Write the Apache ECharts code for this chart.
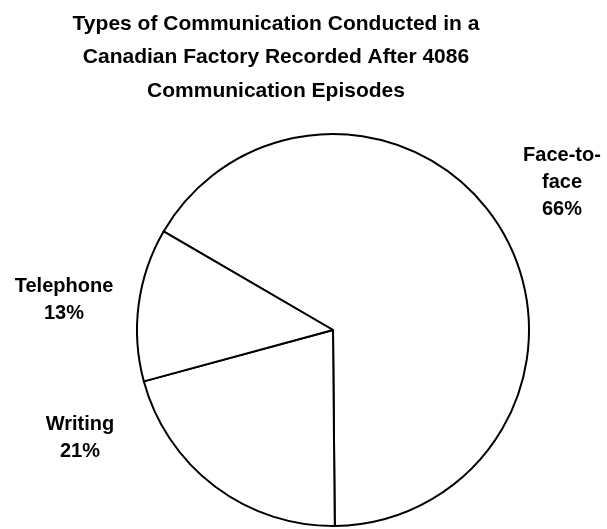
<!DOCTYPE html>
<html>
<head>
<meta charset="utf-8">
<script src="https://cdn.jsdelivr.net/npm/echarts@6/dist/echarts.min.js"></script>
<style>
  html, body { margin: 0; padding: 0; background: #fff; }
  #main { width: 607px; height: 529px; }
</style>
</head>
<body>
<div id="main"></div>
<script>
// 数据
var categories = ['Face-to-\nface', 'Writing', 'Telephone'];
var percents = [66.4, 20.9, 12.6];
// 标签位置 (x, y)
var labelPos = [[562, 182], [80, 438], [64, 300]];

var chart = echarts.init(document.getElementById('main'));
var seriesData = categories.map(function (name, i) {
    return { name: name, value: percents[i] };
});

var option = {
    animation: false,
    title: {
        text: 'Types of Communication Conducted in a\nCanadian Factory Recorded After 4086\nCommunication Episodes',
        left: 271,
        top: 2,
        textAlign: 'center',
        textStyle: {
            fontFamily: 'Liberation Sans, Arial, sans-serif',
            fontSize: 21,
            fontWeight: 'bold',
            lineHeight: 33.5,
            color: '#000'
        }
    },
    series: [{
        type: 'pie',
        center: [333, 330],
        radius: 196,
        startAngle: 149.8,
        clockwise: true,
        silent: true,
        data: seriesData,
        itemStyle: { color: '#fff', borderColor: '#000', borderWidth: 2 },
        label: {
            show: true,
            position: 'outside',
            formatter: function (p) { return p.name + '\n' + Math.round(p.value) + '%'; },
            fontFamily: 'Liberation Sans, Arial, sans-serif',
            fontSize: 20,
            fontWeight: 'bold',
            lineHeight: 27,
            color: '#000',
            align: 'center',
            overflow: 'none'
        },
        labelLine: { show: false },
        labelLayout: function (params) {
            var p = labelPos[params.dataIndex];
            return { x: p[0], y: p[1], align: 'center', verticalAlign: 'middle' };
        }
    }]
};
chart.setOption(option);
</script>
</body>
</html>
